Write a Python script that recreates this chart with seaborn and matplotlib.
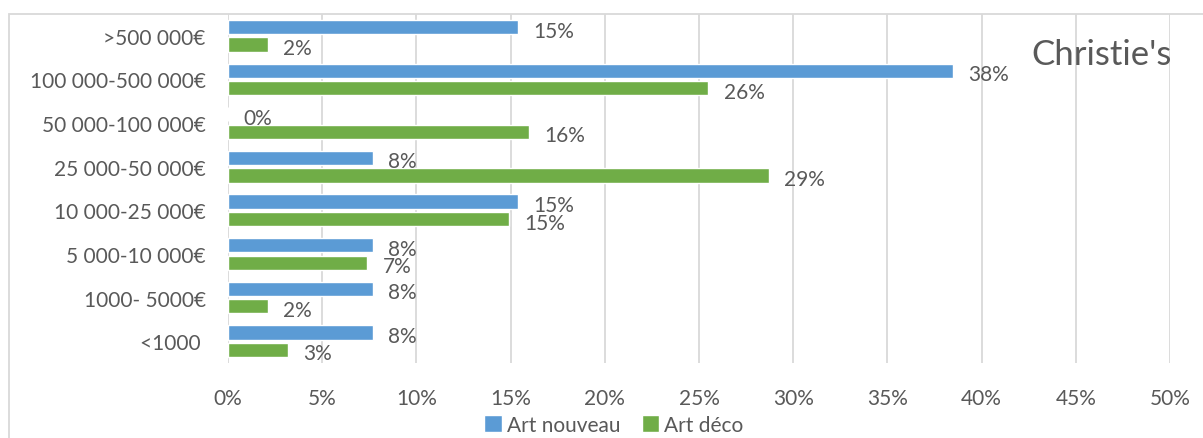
import pandas as pd
import matplotlib.pyplot as plt
import seaborn as sns
from matplotlib.patches import Rectangle
from matplotlib.ticker import FuncFormatter

# tranches de prix (du haut vers le bas)
price_ranges = [">500 000€", "100 000-500 000€", "50 000-100 000€", "25 000-50 000€",
                "10 000-25 000€", "5 000-10 000€", "1000- 5000€", "<1000 "]
# parts en %
art_nouveau = [15.4, 38.5, 0.0, 7.7, 15.4, 7.7, 7.7, 7.7]
art_deco = [2.1, 25.5, 16.0, 28.7, 14.9, 7.4, 2.1, 3.2]
styles = ["Art nouveau", "Art déco"]

df = pd.DataFrame({
    "range": price_ranges * 2,
    "share": art_nouveau + art_deco,
    "style": [styles[0]] * len(price_ranges) + [styles[1]] * len(price_ranges),
})

sns.set_style("white")
plt.rcParams["font.family"] = ["Lato", "DejaVu Sans"]
grey = "#595959"

fig = plt.figure(figsize=(12.03, 4.39), dpi=100)
ax = fig.add_axes([228 / 1203, 1 - 364 / 439, (1170 - 228) / 1203, (364 - 15) / 439])

sns.barplot(data=df, x="share", y="range", hue="style", orient="h",
            palette=["#5B9BD5", "#70AD47"], width=0.8, gap=0.18,
            saturation=1, ax=ax, zorder=3)

# étiquettes de valeur
for cont in ax.containers:
    for bar in cont:
        w = bar.get_width()
        ax.annotate(f"{w:.0f}%", (w, bar.get_y() + bar.get_height() / 2),
                    xytext=(11, -2.5), textcoords="offset points",
                    ha="left", va="center", fontsize=15, color=grey)

ax.set_xlim(0, 50)
ax.set_xticks(range(0, 51, 5))
ax.xaxis.set_major_formatter(FuncFormatter(lambda v, p: f"{v:.0f}%"))
ax.grid(axis="x", color="#D9D9D9", linewidth=1.3, zorder=0)
ax.set_xlabel("")
ax.set_ylabel("")
for s in ax.spines.values():
    s.set_visible(False)
ax.tick_params(axis="y", length=0, pad=16, labelsize=15, labelcolor=grey)
ax.tick_params(axis="x", length=0, pad=18, labelsize=15, labelcolor=grey)

ax.text(1.002, 0.93, "Christie's", transform=ax.transAxes, ha="right", va="top",
        fontsize=25, color=grey)

ax.legend(loc="center", bbox_to_anchor=((614 - 228) / 942, -(426 - 364) / 349),
          ncol=2, frameon=False, fontsize=15, labelcolor=grey,
          handlelength=0.85, handleheight=0.85, handletextpad=0.25, columnspacing=1.0)

# cadre du graphique
fig.patches.append(Rectangle((9 / 1203, -0.1), 1.2, 1 - 15 / 439 + 0.1,
                             transform=fig.transFigure, fill=False,
                             edgecolor="#D9D9D9", linewidth=1.3))

fig.savefig("out.png", dpi=100)
